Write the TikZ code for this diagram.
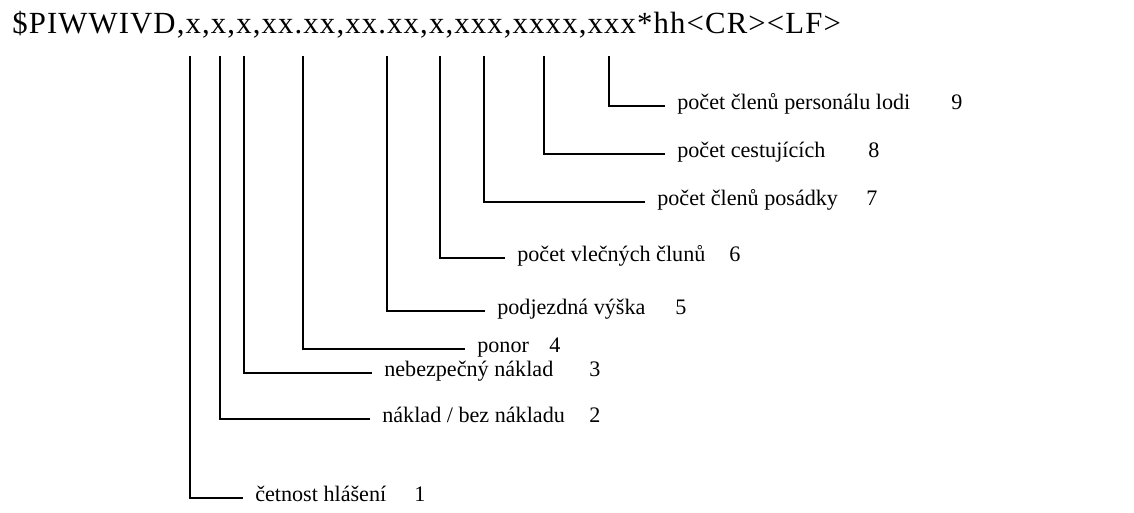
\documentclass[tikz,border=0pt]{standalone}
\usepackage{fontspec}
\setmainfont{Liberation Serif}
\newfontfamily\msgfont[LetterSpace=3.7]{Liberation Serif}
\usetikzlibrary{positioning}

\begin{document}
\begin{tikzpicture}[x=0.02cm, y=-0.02cm,
  lbl/.style={anchor=base west, inner xsep=6.8pt, inner ysep=0pt, font=\rmfamily\fontsize{12.6}{15}\selectfont},
  num/.style={anchor=base, inner sep=0pt, font=\rmfamily\fontsize{12.6}{15}\selectfont},
  lead/.style={line width=0.9pt}]
  \useasboundingbox (0,0) rectangle (1134,512);

  % message sentence
  \node[anchor=base west, inner sep=0pt, font=\msgfont\fontsize{17.5}{20}\selectfont] (msg) at (12,33)
    {\$PIWWIVD,x,x,x,xx.xx,xx.xx,x,xxx,xxxx,xxx*hh<CR><LF>};

  % 9 fields with leader lines
  \foreach \i/\fx/\ly/\lx/\nx/\txt in {
    1/190/498/243/420/{četnost hlášení},
    2/220/419/370/595/{náklad / bez nákladu},
    3/244/373/372/595/{nebezpečný náklad},
    4/303/349/465/555/{ponor},
    5/387/311/485/681/{podjezdná výška},
    6/440/258/505/735/{počet vlečných člunů},
    7/484/202/645/872/{počet členů posádky},
    8/544/154/665/874/{počet cestujících},
    9/609/106/665/957/{počet členů personálu lodi}
  } {
    \coordinate (f\i) at (\fx,56);
    \node[lbl] (lab\i) at (\lx,\ly+3) {\txt};
    \node[num] (num\i) at (\nx,\ly+3) {\i};
    \draw[lead] (f\i) |- ([yshift=1.7pt]lab\i.base west);
  }
\end{tikzpicture}
\end{document}
